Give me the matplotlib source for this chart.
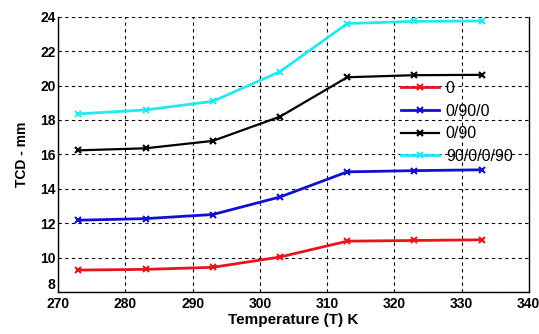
import matplotlib
matplotlib.use("Agg")
import matplotlib.pyplot as plt

plt.rcParams['font.family'] = ['Liberation Sans', 'DejaVu Sans']

# temperatures (K)
temps = [273, 283, 293, 303, 313, 323, 333]

# TCD in mm for each stacking sequence
tcd_0 = [9.27, 9.31, 9.43, 10.03, 10.95, 10.99, 11.03]
tcd_0_90_0 = [12.17, 12.26, 12.5, 13.52, 14.98, 15.05, 15.1]
tcd_0_90 = [16.23, 16.35, 16.78, 18.19, 20.48, 20.6, 20.62]
tcd_90_0_0_90 = [18.35, 18.58, 19.08, 20.81, 23.6, 23.73, 23.75]

labels = ['0', '0/90/0', '0/90', '90/0/0/90']
colors = ['#e8141c', '#1010d0', '#000000', '#22e8f0']

fig = plt.figure(figsize=(5.39, 3.34), dpi=100)
ax = fig.add_axes([0.108, 0.126, 0.873, 0.824])

for ys, lab, c in zip([tcd_0, tcd_0_90_0, tcd_0_90, tcd_90_0_0_90], labels, colors):
    lw = 1.6 if c == '#000000' else 2.0
    ax.plot(temps, ys, color=c, lw=lw, marker='x', ms=4, mew=1.5, label=lab)

ax.set_xlim(270, 340)
ax.set_ylim(8, 24)
ax.set_xticks(range(270, 341, 10))
ax.set_yticks(range(8, 25, 2))
ax.grid(True, color='black', linestyle=(0, (3, 3)), linewidth=0.8)
ax.spines['top'].set_visible(False)
for s in ['left', 'bottom', 'right']:
    ax.spines[s].set_linewidth(1.0)
ax.tick_params(length=0, labelsize=10)
ax.tick_params(axis='x', pad=4)
ax.tick_params(axis='y', pad=2)
for t in ax.get_xticklabels() + ax.get_yticklabels():
    t.set_fontweight('bold')
# nudge the bottom y label up a touch so it clears the first x label
ax.get_yticklabels()[0].set_verticalalignment('bottom')

ax.set_xlabel('Temperature (T) K', fontsize=11, fontweight='bold', labelpad=1)
ax.set_ylabel('TCD - mm', fontsize=10, fontweight='bold', labelpad=8)

leg = ax.legend(loc='upper left', bbox_to_anchor=(0.715, 0.79), frameon=False,
                fontsize=11.5, handlelength=2.4, handletextpad=0.4,
                labelspacing=0.48, borderaxespad=0)

fig.savefig('out.png', dpi=100)
